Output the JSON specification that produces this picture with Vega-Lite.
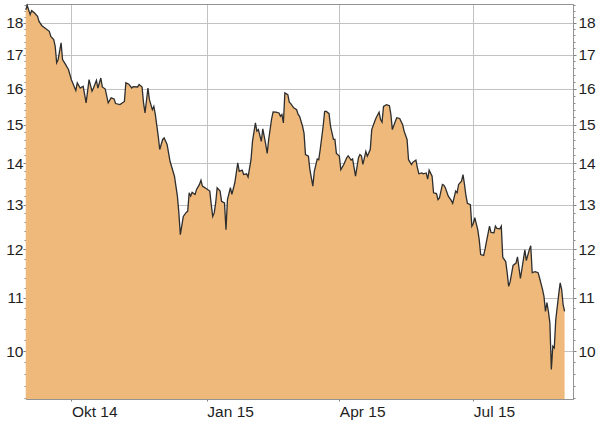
{
  "$schema": "https://vega.github.io/schema/vega-lite/v6.json",
  "width": 547,
  "height": 395,
  "autosize": {"type": "none"},
  "padding": {"left": 26, "top": 4, "right": 27, "bottom": 25},
  "background": "#ffffff",
  "config": {
    "view": {"stroke": "#939393", "strokeWidth": 1},
    "axis": {
      "labelFont": "Liberation Sans",
      "labelFontSize": 15.5,
      "labelColor": "#1e1e1e",
      "tickColor": "#808080",
      "domainColor": "#939393",
      "gridColor": "#c2c2c2",
      "gridWidth": 1
    }
  },
  "data": {
    "values": [
      {"d":"2014-08-31","v":18.43},{"d":"2014-09-01","v":18.57},{"d":"2014-09-03","v":18.27},{"d":"2014-09-04","v":18.40},
      {"d":"2014-09-06","v":18.32},{"d":"2014-09-08","v":18.21},{"d":"2014-09-09","v":18.05},{"d":"2014-09-11","v":17.91},
      {"d":"2014-09-13","v":17.84},{"d":"2014-09-16","v":17.73},{"d":"2014-09-17","v":17.57},{"d":"2014-09-19","v":17.47},
      {"d":"2014-09-20","v":17.26},{"d":"2014-09-21","v":16.76},{"d":"2014-09-22","v":16.86},{"d":"2014-09-24","v":17.37},
      {"d":"2014-09-25","v":16.86},{"d":"2014-09-27","v":16.71},{"d":"2014-09-29","v":16.56},{"d":"2014-10-01","v":16.26},
      {"d":"2014-10-04","v":15.95},{"d":"2014-10-05","v":16.17},{"d":"2014-10-07","v":16.02},{"d":"2014-10-09","v":16.07},
      {"d":"2014-10-11","v":15.60},{"d":"2014-10-13","v":16.26},{"d":"2014-10-15","v":15.93},{"d":"2014-10-16","v":16.02},
      {"d":"2014-10-18","v":16.24},{"d":"2014-10-19","v":16.02},{"d":"2014-10-21","v":16.31},{"d":"2014-10-22","v":16.05},
      {"d":"2014-10-24","v":15.99},{"d":"2014-10-26","v":15.60},{"d":"2014-10-28","v":15.74},{"d":"2014-10-30","v":15.71},
      {"d":"2014-10-31","v":15.58},{"d":"2014-11-03","v":15.55},{"d":"2014-11-06","v":15.64},{"d":"2014-11-07","v":16.17},
      {"d":"2014-11-09","v":16.13},{"d":"2014-11-11","v":16.02},{"d":"2014-11-12","v":16.06},{"d":"2014-11-15","v":16.05},
      {"d":"2014-11-16","v":16.12},{"d":"2014-11-18","v":16.05},{"d":"2014-11-19","v":15.60},{"d":"2014-11-20","v":15.32},
      {"d":"2014-11-22","v":16.02},{"d":"2014-11-23","v":15.69},{"d":"2014-11-25","v":15.41},{"d":"2014-11-26","v":15.50},
      {"d":"2014-11-27","v":15.28},{"d":"2014-11-29","v":14.69},{"d":"2014-11-30","v":14.35},{"d":"2014-12-02","v":14.61},
      {"d":"2014-12-03","v":14.65},{"d":"2014-12-05","v":14.48},{"d":"2014-12-07","v":14.05},{"d":"2014-12-10","v":13.68},
      {"d":"2014-12-12","v":13.20},{"d":"2014-12-13","v":12.81},{"d":"2014-12-14","v":12.32},{"d":"2014-12-16","v":12.73},
      {"d":"2014-12-18","v":12.82},{"d":"2014-12-19","v":12.85},{"d":"2014-12-20","v":13.28},{"d":"2014-12-21","v":13.20},
      {"d":"2014-12-22","v":13.29},{"d":"2014-12-24","v":13.24},{"d":"2014-12-25","v":13.36},{"d":"2014-12-27","v":13.48},
      {"d":"2014-12-28","v":13.58},{"d":"2014-12-29","v":13.44},{"d":"2015-01-01","v":13.37},{"d":"2015-01-03","v":13.32},
      {"d":"2015-01-04","v":13.00},{"d":"2015-01-05","v":12.73},{"d":"2015-01-06","v":12.81},{"d":"2015-01-07","v":13.04},
      {"d":"2015-01-08","v":13.40},{"d":"2015-01-10","v":13.32},{"d":"2015-01-11","v":13.08},{"d":"2015-01-13","v":13.04},
      {"d":"2015-01-14","v":12.43},{"d":"2015-01-15","v":13.12},{"d":"2015-01-17","v":13.40},{"d":"2015-01-18","v":13.24},
      {"d":"2015-01-20","v":13.52},{"d":"2015-01-22","v":14.01},{"d":"2015-01-23","v":13.80},{"d":"2015-01-25","v":13.83},
      {"d":"2015-01-26","v":13.72},{"d":"2015-01-28","v":13.74},{"d":"2015-01-29","v":13.66},{"d":"2015-01-31","v":14.09},
      {"d":"2015-02-01","v":14.56},{"d":"2015-02-03","v":15.05},{"d":"2015-02-04","v":14.83},{"d":"2015-02-05","v":14.87},
      {"d":"2015-02-07","v":14.56},{"d":"2015-02-08","v":14.89},{"d":"2015-02-10","v":14.48},{"d":"2015-02-11","v":14.25},
      {"d":"2015-02-12","v":14.61},{"d":"2015-02-14","v":15.16},{"d":"2015-02-15","v":15.35},{"d":"2015-02-17","v":15.34},
      {"d":"2015-02-19","v":15.32},{"d":"2015-02-20","v":15.23},{"d":"2015-02-21","v":15.28},{"d":"2015-02-22","v":15.05},
      {"d":"2015-02-23","v":15.88},{"d":"2015-02-25","v":15.83},{"d":"2015-02-26","v":15.62},{"d":"2015-02-27","v":15.58},
      {"d":"2015-03-01","v":15.46},{"d":"2015-03-03","v":15.41},{"d":"2015-03-04","v":15.28},{"d":"2015-03-05","v":15.23},
      {"d":"2015-03-07","v":14.96},{"d":"2015-03-08","v":14.78},{"d":"2015-03-09","v":14.22},{"d":"2015-03-11","v":14.18},
      {"d":"2015-03-12","v":13.84},{"d":"2015-03-14","v":13.44},{"d":"2015-03-15","v":13.80},{"d":"2015-03-17","v":14.11},
      {"d":"2015-03-18","v":14.09},{"d":"2015-03-19","v":14.35},{"d":"2015-03-21","v":14.96},{"d":"2015-03-22","v":15.36},
      {"d":"2015-03-23","v":15.37},{"d":"2015-03-25","v":15.30},{"d":"2015-03-26","v":14.96},{"d":"2015-03-28","v":14.61},
      {"d":"2015-03-29","v":14.61},{"d":"2015-03-30","v":14.25},{"d":"2015-04-01","v":14.18},{"d":"2015-04-02","v":13.84},
      {"d":"2015-04-04","v":13.97},{"d":"2015-04-06","v":14.14},{"d":"2015-04-07","v":14.19},{"d":"2015-04-09","v":14.08},
      {"d":"2015-04-10","v":14.11},{"d":"2015-04-12","v":13.68},{"d":"2015-04-14","v":14.14},{"d":"2015-04-15","v":14.22},
      {"d":"2015-04-16","v":14.19},{"d":"2015-04-17","v":13.97},{"d":"2015-04-19","v":14.30},{"d":"2015-04-20","v":14.18},
      {"d":"2015-04-22","v":14.35},{"d":"2015-04-23","v":14.87},{"d":"2015-04-25","v":15.09},{"d":"2015-04-26","v":15.19},
      {"d":"2015-04-28","v":15.34},{"d":"2015-04-29","v":15.14},{"d":"2015-04-30","v":15.07},{"d":"2015-05-01","v":15.50},
      {"d":"2015-05-03","v":15.55},{"d":"2015-05-05","v":15.52},{"d":"2015-05-06","v":15.28},{"d":"2015-05-07","v":14.87},
      {"d":"2015-05-09","v":15.09},{"d":"2015-05-10","v":15.19},{"d":"2015-05-12","v":15.17},{"d":"2015-05-14","v":15.00},
      {"d":"2015-05-15","v":14.83},{"d":"2015-05-17","v":14.61},{"d":"2015-05-18","v":14.09},{"d":"2015-05-20","v":13.97},
      {"d":"2015-05-21","v":14.03},{"d":"2015-05-23","v":14.08},{"d":"2015-05-24","v":13.89},{"d":"2015-05-25","v":13.74},
      {"d":"2015-05-27","v":13.76},{"d":"2015-05-28","v":13.74},{"d":"2015-05-30","v":13.76},{"d":"2015-05-31","v":13.61},
      {"d":"2015-06-01","v":13.83},{"d":"2015-06-03","v":13.68},{"d":"2015-06-04","v":13.28},{"d":"2015-06-06","v":13.26},
      {"d":"2015-06-07","v":13.12},{"d":"2015-06-08","v":13.16},{"d":"2015-06-10","v":13.48},{"d":"2015-06-11","v":13.46},
      {"d":"2015-06-12","v":13.40},{"d":"2015-06-14","v":13.20},{"d":"2015-06-16","v":13.10},{"d":"2015-06-17","v":13.03},
      {"d":"2015-06-19","v":13.32},{"d":"2015-06-20","v":13.28},{"d":"2015-06-21","v":13.48},{"d":"2015-06-23","v":13.56},
      {"d":"2015-06-24","v":13.72},{"d":"2015-06-25","v":13.48},{"d":"2015-06-26","v":13.21},{"d":"2015-06-27","v":13.03},
      {"d":"2015-06-29","v":13.00},{"d":"2015-06-30","v":12.51},{"d":"2015-07-01","v":12.57},{"d":"2015-07-02","v":12.70},
      {"d":"2015-07-04","v":12.43},{"d":"2015-07-05","v":12.21},{"d":"2015-07-06","v":11.89},{"d":"2015-07-08","v":11.87},
      {"d":"2015-07-09","v":12.01},{"d":"2015-07-10","v":12.18},{"d":"2015-07-12","v":12.51},{"d":"2015-07-13","v":12.37},
      {"d":"2015-07-15","v":12.36},{"d":"2015-07-16","v":12.51},{"d":"2015-07-17","v":12.46},{"d":"2015-07-19","v":12.45},
      {"d":"2015-07-20","v":12.51},{"d":"2015-07-21","v":11.83},{"d":"2015-07-23","v":11.74},{"d":"2015-07-24","v":11.51},
      {"d":"2015-07-25","v":11.23},{"d":"2015-07-26","v":11.32},{"d":"2015-07-28","v":11.66},{"d":"2015-07-30","v":11.71},
      {"d":"2015-07-31","v":11.84},{"d":"2015-08-02","v":11.39},{"d":"2015-08-04","v":11.78},{"d":"2015-08-05","v":11.99},
      {"d":"2015-08-06","v":11.76},{"d":"2015-08-08","v":11.99},{"d":"2015-08-09","v":12.08},{"d":"2015-08-10","v":11.51},
      {"d":"2015-08-12","v":11.53},{"d":"2015-08-14","v":11.51},{"d":"2015-08-15","v":11.40},{"d":"2015-08-17","v":11.17},
      {"d":"2015-08-18","v":11.03},{"d":"2015-08-19","v":10.74},{"d":"2015-08-20","v":10.91},{"d":"2015-08-21","v":10.74},
      {"d":"2015-08-22","v":10.52},{"d":"2015-08-23","v":9.68},{"d":"2015-08-24","v":10.09},{"d":"2015-08-25","v":10.06},
      {"d":"2015-08-26","v":10.58},{"d":"2015-08-28","v":11.07},{"d":"2015-08-29","v":11.30},{"d":"2015-08-30","v":11.17},
      {"d":"2015-08-31","v":10.87},{"d":"2015-09-01","v":10.74}
    ]
  },
  "layer": [
    {
      "mark": {"type": "area", "color": "#EEB97B", "opacity": 1},
      "encoding": {
        "x": {
          "field": "d", "type": "temporal",
          "scale": {"type": "utc", "domain": [1409457600000, 1441558800000]},
          "axis": {
            "orient": "bottom",
            "values": [1412121600000, 1420070400000, 1427846400000, 1435708800000],
            "labelExpr": "['Jan','Feb','Mär','Apr','Mai','Jun','Jul','Aug','Sep','Okt','Nov','Dez'][utcmonth(datum.value)] + ' ' + utcFormat(datum.value, '%y')",
            "labelAlign": "left",
            "labelBaseline": "top",
            "labelPadding": 3,
            "tickSize": 2,
            "grid": true,
            "domain": true,
            "title": null
          }
        },
        "y": {
          "field": "v", "type": "quantitative",
          "scale": {"type": "log", "domain": [9.18, 18.62], "nice": false},
          "axis": {"orient": "left", "values": [10, 11, 12, 13, 14, 15, 16, 17, 18], "tickSize": 3, "labelPadding": 0, "grid": true, "domain": true, "title": null}
        },
        "y2": {"datum": 9.18}
      }
    },
    {
      "mark": {"type": "line", "stroke": "#2e2e2e", "strokeWidth": 1.3},
      "encoding": {
        "x": {
          "field": "d", "type": "temporal",
          "axis": {"orient": "top", "labels": false, "ticks": false, "grid": false, "domain": true, "title": null}
        },
        "y": {
          "field": "v", "type": "quantitative",
          "axis": {"orient": "right", "values": [10, 11, 12, 13, 14, 15, 16, 17, 18], "tickSize": 3, "labelPadding": 2, "grid": false, "domain": true, "title": null}
        }
      }
    },
    {
      "mark": {"type": "line", "strokeOpacity": 0},
      "encoding": {
        "x": {"field": "d", "type": "temporal", "axis": null},
        "y": {
          "field": "v", "type": "quantitative",
          "axis": {"orient": "left", "values": [9.2, 9.4, 9.6, 9.8, 10.2, 10.4, 10.6, 10.8, 11.2, 11.4, 11.6, 11.8, 12.2, 12.4, 12.6, 12.8, 13.2, 13.4, 13.6, 13.8, 14.2, 14.4, 14.6, 14.8, 15.2, 15.4, 15.6, 15.8, 16.2, 16.4, 16.6, 16.8, 17.2, 17.4, 17.6, 17.8, 18.2, 18.4, 18.6], "tickSize": 2, "tickColor": "#8a8a8a", "labels": false, "grid": false, "domain": false, "title": null}
        }
      }
    },
    {
      "mark": {"type": "line", "strokeOpacity": 0},
      "encoding": {
        "x": {"field": "d", "type": "temporal", "axis": null},
        "y": {
          "field": "v", "type": "quantitative",
          "axis": {"orient": "right", "values": [9.2, 9.4, 9.6, 9.8, 10.2, 10.4, 10.6, 10.8, 11.2, 11.4, 11.6, 11.8, 12.2, 12.4, 12.6, 12.8, 13.2, 13.4, 13.6, 13.8, 14.2, 14.4, 14.6, 14.8, 15.2, 15.4, 15.6, 15.8, 16.2, 16.4, 16.6, 16.8, 17.2, 17.4, 17.6, 17.8, 18.2, 18.4, 18.6], "tickSize": 2, "tickColor": "#8a8a8a", "labels": false, "grid": false, "domain": false, "title": null}
        }
      }
    }
  ],
  "resolve": {"axis": {"x": "independent", "y": "independent"}}
}
